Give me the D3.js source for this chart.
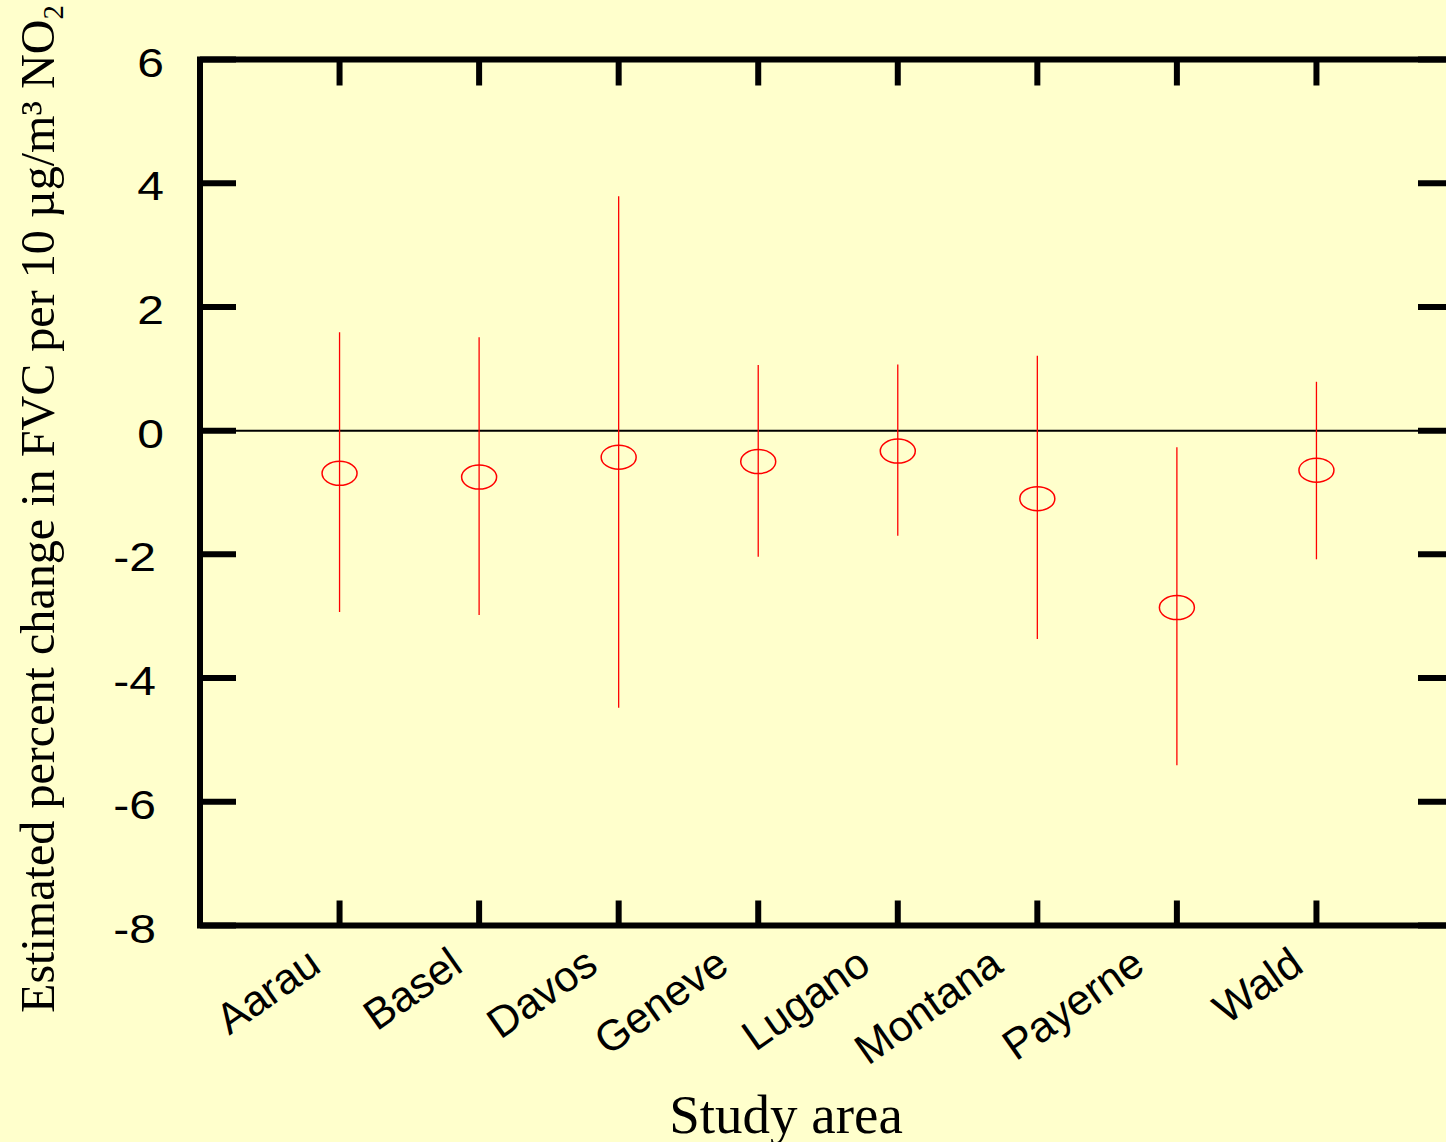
<!DOCTYPE html>
<html>
<head>
<meta charset="utf-8">
<script src="https://d3js.org/d3.v7.min.js"></script>
<style>
  html, body { margin: 0; padding: 0; background: #ffffcc; }
  svg { display: block; }
</style>
</head>
<body>
<svg width="1446" height="1142"></svg>
<script>
const areas = ["Aarau", "Basel", "Davos", "Geneve", "Lugano", "Montana", "Payerne", "Wald"];
const estimate = [-0.69, -0.75, -0.43, -0.50, -0.33, -1.10, -2.86, -0.64];
const lower = [-2.93, -2.98, -4.48, -2.04, -1.70, -3.37, -5.41, -2.08];
const upper = [1.59, 1.51, 3.79, 1.06, 1.07, 1.21, -0.27, 0.79];
const yTicks = [6, 4, 2, 0, -2, -4, -6, -8];

const svg = d3.select("svg");
const width = 1446, height = 1142;
const plotLeft = 200, plotRight = 1456, plotTop = 59.5, plotBottom = 925.5;

svg.append("rect").attr("width", width).attr("height", height).attr("fill", "#ffffcc");

const x = d3.scaleLinear().domain([0, areas.length + 1]).range([plotLeft, plotRight]);
const y = d3.scaleLinear().domain([-8, 6]).range([plotBottom, plotTop]);

const g = svg.append("g");

// zero line
g.append("line")
    .attr("x1", plotLeft).attr("x2", plotRight)
    .attr("y1", y(0)).attr("y2", y(0))
    .attr("stroke", "#000").attr("stroke-width", 2);

// error bars
g.selectAll("line.ci")
    .data(areas)
    .enter().append("line")
    .attr("class", "ci")
    .attr("x1", (d, i) => x(i + 1)).attr("x2", (d, i) => x(i + 1))
    .attr("y1", (d, i) => y(upper[i])).attr("y2", (d, i) => y(lower[i]))
    .attr("stroke", "#ff0000").attr("stroke-width", 1.3);

g.selectAll("ellipse")
    .data(areas)
    .enter().append("ellipse")
    .attr("cx", (d, i) => x(i + 1))
    .attr("cy", (d, i) => y(estimate[i]))
    .attr("rx", 17.5).attr("ry", 12)
    .attr("fill", "none")
    .attr("stroke", "#ff0000").attr("stroke-width", 1.5);

// frame
const frame = svg.append("g").attr("stroke", "#000").attr("stroke-width", 6).attr("fill", "none");
frame.append("rect").attr("x", plotLeft).attr("y", plotTop).attr("width", plotRight - plotLeft).attr("height", plotBottom - plotTop);

// y ticks both sides
frame.selectAll("line.yl").data(yTicks).enter().append("line")
    .attr("x1", plotLeft).attr("x2", plotLeft + 36)
    .attr("y1", d => y(d)).attr("y2", d => y(d));
frame.selectAll("line.yr").data(yTicks).enter().append("line")
    .attr("x1", plotRight - 38).attr("x2", plotRight)
    .attr("y1", d => y(d)).attr("y2", d => y(d));
// x ticks top and bottom
frame.selectAll("line.xb").data(areas).enter().append("line")
    .attr("x1", (d, i) => x(i + 1)).attr("x2", (d, i) => x(i + 1))
    .attr("y1", plotBottom).attr("y2", plotBottom - 25);
frame.selectAll("line.xt").data(areas).enter().append("line")
    .attr("x1", (d, i) => x(i + 1)).attr("x2", (d, i) => x(i + 1))
    .attr("y1", plotTop).attr("y2", plotTop + 26);

// y tick labels (glyphs in the original are a bit wider than Arial)
svg.append("g").selectAll("text").data(yTicks).enter().append("text")
    .attr("transform", d => `translate(${d < 0 ? 156 : 164},${y(d) + 17}) scale(1.2,1)`)
    .attr("text-anchor", "end")
    .attr("font-family", "'Liberation Sans', Arial, sans-serif")
    .attr("font-size", 40)
    .text(d => d);

// x tick labels, rotated; longer names sit further left of their tick
svg.append("g").selectAll("text").data(areas).enter().append("text")
    .attr("text-anchor", "end")
    .attr("font-family", "'Liberation Sans', Arial, sans-serif")
    .attr("font-size", 43)
    .text(d => d)
    .attr("transform", function(d, i) {
        const len = this.getComputedTextLength();
        return `translate(${x(i + 1) + 18 - 0.3 * len},970) rotate(-35)`;
    });

// axis titles
svg.append("text")
    .attr("x", 786).attr("y", 1133)
    .attr("text-anchor", "middle")
    .attr("font-family", "'Liberation Serif', 'Times New Roman', serif")
    .attr("font-size", 55)
    .text("Study area");

const yt = svg.append("text")
    .attr("transform", "translate(54,1013) rotate(-90)")
    .attr("text-anchor", "start")
    .attr("font-family", "'Liberation Serif', 'Times New Roman', serif")
    .attr("font-size", 50);
yt.append("tspan").text("Estimated percent change in FVC per 10 \u00b5g/m\u00b3 NO");
yt.append("tspan").attr("font-size", "0.6em").attr("dy", "0.3em").text("2");
// fit the title to the span it takes in the original (y 1013 up to y 5)
const len = yt.node().getComputedTextLength();
yt.attr("font-size", 50 * 1008 / len);
</script>
</body>
</html>
